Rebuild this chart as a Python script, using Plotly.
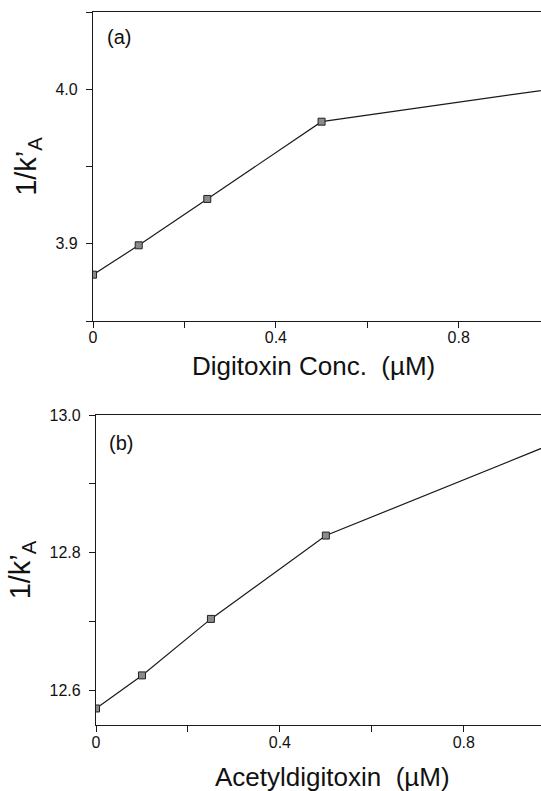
import plotly.graph_objects as go

# Data
conc = [0, 0.1, 0.25, 0.5, 1.0]
digitoxin_inv_k = [3.88, 3.899, 3.929, 3.979, 4.0]
acetyl_inv_k = [12.574, 12.622, 12.704, 12.825, 12.96]

x_tickvals = [0, 0.4, 0.8]
x_ticktext = ["0", "0.4", "0.8"]
ya_tickvals = [3.9, 4.0]
ya_ticktext = ["3.9", "4.0"]
yb_tickvals = [12.6, 12.8, 13.0]
yb_ticktext = ["12.6", "12.8", "13.0"]

FONT = "Liberation Sans, Arial, Helvetica, sans-serif"
W, H = 541, 791

line_style = dict(color="#1a1a1a", width=1.2)
marker_style = dict(symbol="square", size=7, color="#8a8a8a",
                    line=dict(color="#222222", width=1))

fig = go.Figure()
fig.add_trace(go.Scatter(x=conc, y=digitoxin_inv_k, mode="lines+markers",
                         line=line_style, marker=marker_style,
                         xaxis="x", yaxis="y", showlegend=False))
fig.add_trace(go.Scatter(x=conc, y=acetyl_inv_k, mode="lines+markers",
                         line=line_style, marker=marker_style,
                         xaxis="x2", yaxis="y2", showlegend=False))


def minor(dtick, tick0):
    return dict(dtick=dtick, tick0=tick0, ticks="outside", ticklen=6,
                tickwidth=1.2, tickcolor="#1a1a1a", showgrid=False)


axis_common = dict(showgrid=False, zeroline=False, showline=True,
                   linecolor="#1a1a1a", linewidth=1.3, ticks="outside",
                   ticklen=6, tickwidth=1.2, tickcolor="#1a1a1a",
                   tickfont=dict(family=FONT, size=16, color="#111"),
                   automargin=False)

fig.update_layout(
    width=W, height=H, template="none",
    paper_bgcolor="white", plot_bgcolor="white",
    margin=dict(l=0, r=0, t=0, b=0),
    font=dict(family=FONT, color="#111"),
    xaxis=dict(domain=[93 / W, 1], range=[0, 0.98], anchor="y",
               tickvals=x_tickvals, ticktext=x_ticktext, mirror=True,
               ticklabelstandoff=-4, minor=minor(0.2, 0), **axis_common),
    yaxis=dict(domain=[1 - 321 / H, 1 - 12 / H], range=[3.85, 4.05], anchor="x",
               tickvals=ya_tickvals, ticktext=ya_ticktext,
               ticklabelstandoff=5, minor=minor(0.05, 3.85),
               title=dict(text="1/k’<sub>A</sub>",
                          font=dict(family=FONT, size=29), standoff=10),
               **axis_common),
    xaxis2=dict(domain=[96 / W, 1], range=[0, 0.968], anchor="y2",
                tickvals=x_tickvals, ticktext=x_ticktext, mirror=True,
                ticklabelstandoff=-3, minor=minor(0.2, 0), **axis_common),
    yaxis2=dict(domain=[1 - 725 / H, 1 - 415 / H], range=[12.55, 13.0], anchor="x2",
                tickvals=yb_tickvals, ticktext=yb_ticktext,
                ticklabelstandoff=5, minor=minor(0.1, 12.6),
                title=dict(text="1/k’<sub>A</sub>",
                           font=dict(family=FONT, size=29), standoff=10),
                **axis_common),
    annotations=[
        dict(text="(a)", x=105 / W, y=1 - 37 / H, xref="paper", yref="paper",
             xanchor="left", yanchor="middle", showarrow=False,
             font=dict(family=FONT, size=20, color="#111")),
        dict(text="(b)", x=107 / W, y=1 - 443 / H, xref="paper", yref="paper",
             xanchor="left", yanchor="middle", showarrow=False,
             font=dict(family=FONT, size=20, color="#111")),
        dict(text="Digitoxin Conc.  (µM)", x=313 / W, y=1 - 366 / H,
             xref="paper", yref="paper", xanchor="center", yanchor="middle",
             showarrow=False, font=dict(family=FONT, size=26, color="#111")),
        dict(text="Acetyldigitoxin  (µM)", x=332 / W, y=1 - 777 / H,
             xref="paper", yref="paper", xanchor="center", yanchor="middle",
             showarrow=False, font=dict(family=FONT, size=26, color="#111")),
    ],
)

fig.write_html("out.html")
